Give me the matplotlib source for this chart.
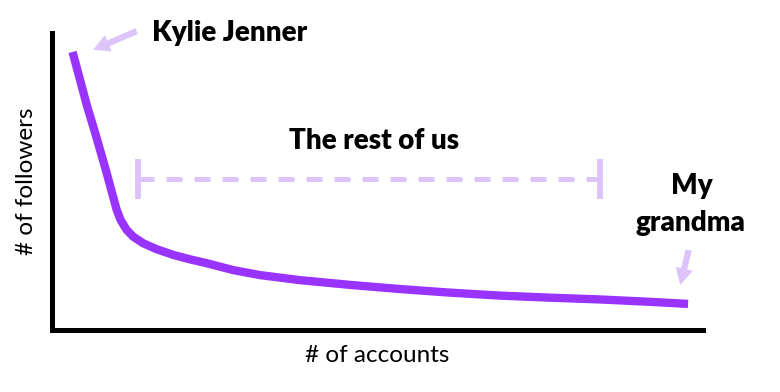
import matplotlib.pyplot as plt

# curve (arbitrary units, 0-100 on both axes)
accounts = [3.15, 5.38, 6.54, 8.3, 9.94, 10.55, 11.47, 12.49, 14.02,
            16.08, 18.63, 21.2, 23.76, 27.8, 31.95, 38.1, 45.8, 53.5, 61.1, 68.8,
            76.5, 84.2, 91.9, 97.7]
followers = [93.6, 75.4, 67.0, 53.6, 40.4, 37.0, 33.7, 31.4, 29.2,
             27.2, 25.3, 23.8, 22.5, 20.2, 18.5, 16.8, 15.2, 13.8, 12.6, 11.6,
             10.9, 10.3, 9.5, 8.8]

rest_start, rest_end, rest_level = 13.2, 84.2, 50.8

purple = '#9933ff'
light = '#dcc4fb'

plt.rcParams['font.family'] = ['Lato', 'DejaVu Sans']

fig = plt.figure(figsize=(7.8, 3.92), dpi=100)
ax = fig.add_axes([0.0667, 0.158, 0.8346, 0.758])

ax.plot(accounts, followers, color=purple, lw=6, solid_capstyle='butt', solid_joinstyle='round')

# "the rest of us" bracket
ax.plot([rest_start, rest_end], [rest_level, rest_level], color=light, lw=3.6,
        linestyle=(0, (3.2, 2.4)), solid_capstyle='butt')
for xc in (rest_start, rest_end):
    ax.plot([xc, xc], [rest_level - 6.7, rest_level + 6.7], color=light, lw=4.2, solid_capstyle='butt')

bold = dict(fontsize=20, fontweight='heavy')
ax.text((rest_start + rest_end) / 2 + 0.8, 63.6, 'The rest of us', ha='center', va='center', **bold)
ax.text(98.3, 48.5, 'My', ha='center', va='center', **bold)
ax.text(98.0, 36.0, 'grandma', ha='center', va='center', **bold)
ax.text(15.3, 100.0, 'Kylie Jenner', ha='left', va='center', clip_on=False, **bold)

arrow = dict(arrowstyle='simple,head_length=0.85,head_width=0.9,tail_width=0.32',
             color=light, lw=0, mutation_scale=14, shrinkA=0, shrinkB=0)
ax.annotate('', xy=(6.3, 94.3), xytext=(13.0, 100.6), arrowprops=arrow, annotation_clip=False)
ax.annotate('', xy=(96.5, 15.2), xytext=(97.8, 26.9), arrowprops=arrow, annotation_clip=False)

ax.set_xlim(0, 100)
ax.set_ylim(0, 100)
for side in ('top', 'right'):
    ax.spines[side].set_visible(False)
for side in ('left', 'bottom'):
    ax.spines[side].set_linewidth(3.6)
    ax.spines[side].set_color('black')
ax.set_xticks([])
ax.set_yticks([])
ax.set_xlabel('# of accounts', fontsize=17.5, labelpad=11)
ax.set_ylabel('# of followers', fontsize=17.5, labelpad=11)

fig.savefig('out.png', dpi=100)
